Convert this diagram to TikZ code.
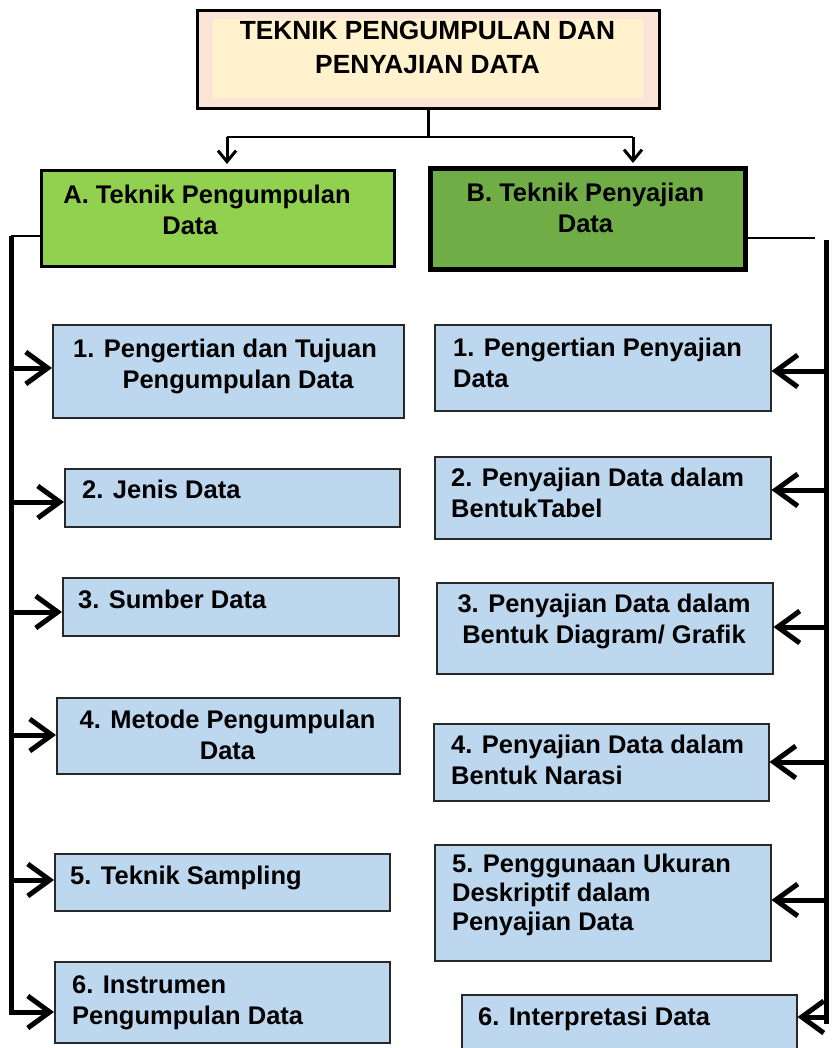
\documentclass[tikz,border=0pt]{standalone}
\usepackage{fontspec}
\setmainfont{Liberation Sans}
\usetikzlibrary{arrows.meta}
\definecolor{peach}{RGB}{251,229,214}
\definecolor{cream}{RGB}{255,242,204}
\definecolor{greenA}{RGB}{146,208,80}
\definecolor{greenB}{RGB}{112,173,71}
\definecolor{blueBox}{RGB}{189,215,238}
\definecolor{boxEdge}{RGB}{40,40,40}
\begin{document}
\begin{tikzpicture}[x=1pt,y=-1pt,
  box/.style={rectangle, draw=boxEdge, fill=blueBox, line width=1.5pt, anchor=north west, inner sep=0pt},
  txt/.style={inner sep=0pt, font=\bfseries\fontsize{25.5}{31}\selectfont},
  trunk/.style={line width=5pt},
  thinline/.style={line width=2.5pt},
  arr/.style={line width=5pt, -{Straight Barb[length=22pt,width=32pt]}},
  toparr/.style={line width=3pt, -{Straight Barb[length=11pt,width=18pt]}},
]
\useasboundingbox (0,0) rectangle (831,1048);

% title
\node[box, draw=black, fill=peach, line width=3pt, minimum width=462pt, minimum height=98pt] (T) at (196,9) {};
\fill[cream] (213,19) rectangle (643,98);
\node[txt, font=\bfseries\fontsize{26.3}{34}\selectfont, align=center, anchor=base] (Tt) at (427.5,74) {TEKNIK PENGUMPULAN DAN\\PENYAJIAN DATA};

% section boxes
\node[box, draw=black, fill=greenA, line width=3pt, minimum width=353pt, minimum height=96pt] (A) at (40,169) {};
\node[txt, align=center, anchor=base] (At) at (207,235) {A. Teknik Pengumpulan\\Data\hspace*{34pt}};
\node[box, draw=black, fill=greenB, line width=5pt, minimum width=315pt, minimum height=101pt] (B) at (428,166) {};
\node[txt, align=center, anchor=base] (Bt) at (585.5,233) {B. Teknik Penyajian\\Data};

% left items
\node[box, minimum width=351pt, minimum height=93pt] (b1) at (52,324) {};
\node[txt, align=center, anchor=base] (b1t) at (225,388) {1. Pengertian dan Tujuan\\\hspace*{26pt}Pengumpulan Data};
\node[box, minimum width=335pt, minimum height=58pt] (b2) at (64,468) {};
\node[txt, anchor=base west] (b2t) at (82,498) {2. Jenis Data};
\node[box, minimum width=336pt, minimum height=58pt] (b3) at (62,577) {};
\node[txt, anchor=base west] (b3t) at (78,608) {3. Sumber Data};
\node[box, minimum width=343pt, minimum height=76pt] (b4) at (56,697) {};
\node[txt, align=center, anchor=base] (b4t) at (227.5,759) {4. Metode Pengumpulan\\Data};
\node[box, minimum width=335pt, minimum height=57pt] (b5) at (54,853) {};
\node[txt, anchor=base west] (b5t) at (70,884) {5. Teknik Sampling};
\node[box, minimum width=335pt, minimum height=81pt] (b6) at (54,961) {};
\node[txt, align=left, anchor=base west] (b6t) at (72,1024) {6. Instrumen\\Pengumpulan Data};

% right items
\node[box, minimum width=336pt, minimum height=86pt] (r1) at (434,324) {};
\node[txt, align=left, anchor=base west] (r1t) at (453,387) {1. Pengertian Penyajian\\Data};
\node[box, minimum width=336pt, minimum height=82pt] (r2) at (434,456) {};
\node[txt, align=left, anchor=base west] (r2t) at (451,517) {2. Penyajian Data dalam\\BentukTabel};
\node[box, minimum width=336pt, minimum height=91pt] (r3) at (436,582) {};
\node[txt, align=center, anchor=base] (r3t) at (604,643) {3. Penyajian Data dalam\\Bentuk Diagram/ Grafik};
\node[box, minimum width=335pt, minimum height=77pt] (r4) at (433,723) {};
\node[txt, align=left, anchor=base west] (r4t) at (451,784) {4. Penyajian Data dalam\\Bentuk Narasi};
\node[box, minimum width=336pt, minimum height=116pt] (r5) at (434,844) {};
\node[txt, font=\bfseries\fontsize{25.5}{29}\selectfont, align=left, anchor=base west] (r5t) at (452,930) {5. Penggunaan Ukuran\\Deskriptif dalam\\Penyajian Data};
\node[box, minimum width=335pt, minimum height=80pt] (r6) at (461,994) {};
\node[txt, anchor=base west] (r6t) at (478,1025) {6. Interpretasi Data};

% top connectors
\coordinate (tl) at (227,137);
\coordinate (tr) at (633,137);
\draw[thinline] (T.south) -- (T.south |- tl);
\draw[thinline] (tl) -- (tr);
\draw[toparr, shorten >=5pt] (tl) -- (tl |- A.north);
\draw[toparr, shorten >=3pt] (tr) -- (tr |- B.north);

% left trunk
\coordinate (lt) at (11,236);
\coordinate (la1) at (11,368);
\coordinate (la2) at (11,502);
\coordinate (la3) at (11,612);
\coordinate (la4) at (11,735);
\coordinate (la5) at (11,880);
\coordinate (la6) at (11,1012);
\draw[thinline] (A.west |- lt) -- (lt);
\draw[arr] (lt) -- (la6) -- (la6 -| b6.west);
\draw[arr] (la1) -- (la1 -| b1.west);
\draw[arr] (la2) -- (la2 -| b2.west);
\draw[arr] (la3) -- (la3 -| b3.west);
\draw[arr] (la4) -- (la4 -| b4.west);
\draw[arr] (la5) -- (la5 -| b5.west);

% right trunk
\coordinate (rh) at (815,238);
\coordinate (rt) at (826,240);
\coordinate (rb) at (826,1024);
\coordinate (ra1) at (826,371);
\coordinate (ra2) at (826,490);
\coordinate (ra3) at (826,627);
\coordinate (ra4) at (826,762);
\coordinate (ra5) at (826,900);
\coordinate (ra6) at (826,1017);
\draw[thinline] (B.east |- rh) -- (rh);
\draw[trunk] (rt) -- (rb);
\draw[arr] (ra1) -- (ra1 -| r1.east);
\draw[arr] (ra2) -- (ra2 -| r2.east);
\draw[arr] (ra3) -- (ra3 -| r3.east);
\draw[arr] (ra4) -- (ra4 -| r4.east);
\draw[arr] (ra5) -- (ra5 -| r5.east);
\draw[arr] (ra6) -- (ra6 -| r6.east);
\end{tikzpicture}
\end{document}
